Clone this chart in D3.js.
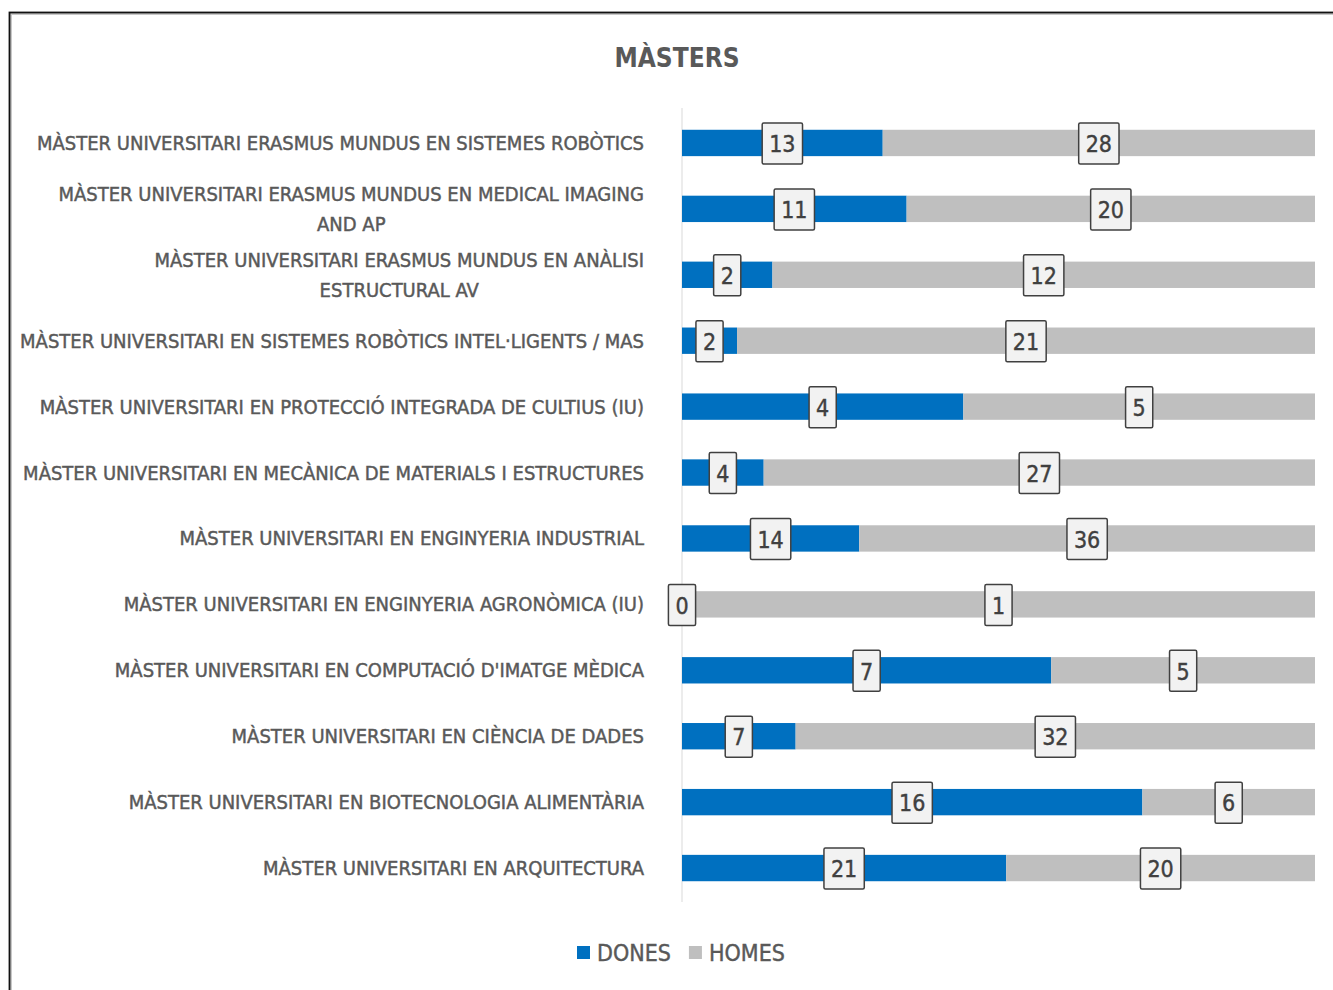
<!DOCTYPE html>
<html><head><meta charset="utf-8">
<script src="https://cdn.jsdelivr.net/npm/d3@7"></script>
<style>body{margin:0;background:#fff}</style>
</head><body>
<svg id="c" width="1333" height="990"></svg>
<script>
const categories = [
 "MÀSTER UNIVERSITARI ERASMUS MUNDUS EN SISTEMES ROBÒTICS",
 "MÀSTER UNIVERSITARI ERASMUS MUNDUS EN MEDICAL IMAGING\nAND AP",
 "MÀSTER UNIVERSITARI ERASMUS MUNDUS EN ANÀLISI\nESTRUCTURAL AV",
 "MÀSTER UNIVERSITARI EN SISTEMES ROBÒTICS INTEL·LIGENTS / MAS",
 "MÀSTER UNIVERSITARI EN PROTECCIÓ INTEGRADA DE CULTIUS (IU)",
 "MÀSTER UNIVERSITARI EN MECÀNICA DE MATERIALS I ESTRUCTURES",
 "MÀSTER UNIVERSITARI EN ENGINYERIA INDUSTRIAL",
 "MÀSTER UNIVERSITARI EN ENGINYERIA AGRONÒMICA (IU)",
 "MÀSTER UNIVERSITARI EN COMPUTACIÓ D'IMATGE MÈDICA",
 "MÀSTER UNIVERSITARI EN CIÈNCIA DE DADES",
 "MÀSTER UNIVERSITARI EN BIOTECNOLOGIA ALIMENTÀRIA",
 "MÀSTER UNIVERSITARI EN ARQUITECTURA"
];
const dones = [13,11,2,2,4,4,14,0,7,7,16,21];
const homes = [28,20,12,21,5,27,36,1,5,32,6,20];
const seriesNames = ["DONES","HOMES"];
const colors = ["#0070c0","#bfbfbf"];
const title = "MÀSTERS";

const FONT = "'DejaVu Sans Condensed','Liberation Sans Narrow',sans-serif";
const TXT = "#595959";
const svg = d3.select("#c");

// frame
svg.append("rect").attr("x",11).attr("y",14).attr("width",1400).attr("height",1100)
  .attr("fill","none").attr("stroke","#c8c8c8").attr("stroke-width",2);
svg.append("rect").attr("x",9.5).attr("y",12.5).attr("width",1400).attr("height",1100)
  .attr("fill","none").attr("stroke","#111").attr("stroke-width",1.8);

svg.append("text").attr("x",677).attr("y",67).attr("text-anchor","middle")
  .attr("font-family",FONT).attr("font-weight","bold").attr("font-size",26)
  .attr("fill",TXT).text(title);

const rows = categories.map((c,i)=>({c, d:dones[i], h:homes[i], t:dones[i]+homes[i]}));
const y = d3.scaleBand().domain(categories).range([110,901]).paddingInner(0.6).paddingOuter(0.3);
const x = d3.scaleLinear().domain([0,1]).range([682,1315]);

// axis line
svg.append("line").attr("x1",682).attr("x2",682).attr("y1",108).attr("y2",902)
  .attr("stroke","#d9d9d9").attr("stroke-width",1);

const stack = d3.stack().keys([0,1]).value((r,k)=> (k===0?r.d:r.h)/r.t)(rows);

stack.forEach((s,k)=>{
  svg.append("g").selectAll("rect").data(s).join("rect")
    .attr("x",d=>x(d[0])).attr("width",d=>x(d[1])-x(d[0]))
    .attr("y",d=>y(d.data.c)).attr("height",y.bandwidth())
    .attr("fill",colors[k]);
});

// category labels
rows.forEach(r=>{
  const lines = r.c.split("\n");
  const cy = y(r.c)+y.bandwidth()/2;
  const g = svg.append("g");
  const lh = 30;
  const texts = lines.map((l,j)=> g.append("text")
    .attr("font-family",FONT).attr("font-size",20).attr("fill",TXT)
    .attr("stroke",TXT).attr("stroke-width",0.45)
    .attr("y", cy + (j-(lines.length-1)/2)*lh).attr("dy","0.35em").text(l));
  const widths = texts.map(t=>t.node().getComputedTextLength());
  const maxW = d3.max(widths);
  const right = 644;
  texts.forEach((t,j)=> t.attr("x", right - maxW/2).attr("text-anchor","middle"));
});

// value labels
stack.forEach((s,k)=>{
  s.forEach(d=>{
    const v = k===0? d.data.d : d.data.h;
    const cx = (x(d[0])+x(d[1]))/2;
    const cy = y(d.data.c)+y.bandwidth()/2;
    const g = svg.append("g");
    const rect = g.append("rect");
    const t = g.append("text").attr("x",cx).attr("y",cy+1).attr("dy","0.36em")
      .attr("text-anchor","middle").attr("font-family",FONT).attr("font-size",23)
      .attr("fill","#404040").attr("stroke","#404040").attr("stroke-width",0.4).text(v);
    const w = t.node().getComputedTextLength()+14;
    rect.attr("x",cx-w/2).attr("y",cy-20).attr("width",w).attr("height",41)
      .attr("fill","#f2f2f2").attr("stroke","#404040").attr("stroke-width",1.5).attr("rx",1.5);
  });
});

// legend
const leg = svg.append("g");
let lx = 577;
seriesNames.forEach((n,k)=>{
  leg.append("rect").attr("x",lx).attr("y",946).attr("width",13).attr("height",13).attr("fill",colors[k]);
  const t = leg.append("text").attr("x",lx+20).attr("y",953).attr("dy","0.36em")
    .attr("font-family",FONT).attr("font-size",23).attr("fill",TXT)
    .attr("stroke",TXT).attr("stroke-width",0.4).text(n);
  lx += 20 + t.node().getComputedTextLength() + 18;
});
</script>
</body></html>
